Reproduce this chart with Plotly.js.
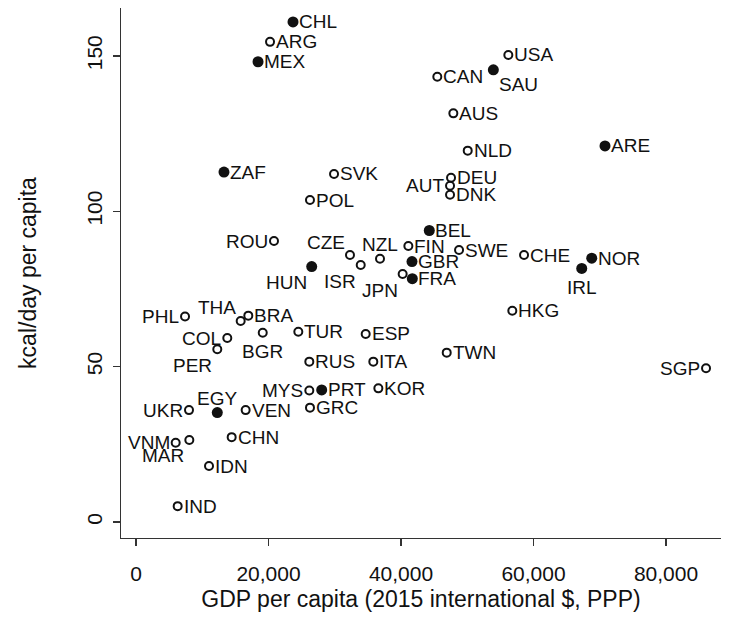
<!DOCTYPE html>
<html>
<head>
<meta charset="utf-8">
<script src="https://cdn.plot.ly/plotly-3.0.1.min.js"></script>
<style>
  html, body { margin: 0; padding: 0; background: #ffffff; }
  #chart { width: 745px; height: 632px; }
</style>
</head>
<body>
<div id="chart"></div>
<script>
// ---- data ----
const countries = ["CHL","ARG","MEX","USA","SAU","CAN","AUS","NLD","ARE","ZAF","SVK","POL","DEU","AUT","DNK","BEL","ROU","CZE","NZL","FIN","SWE","CHE","NOR","IRL","HUN","ISR","JPN","GBR","FRA","HKG","PHL","THA","BRA","COL","PER","BGR","TUR","ESP","RUS","ITA","TWN","SGP","MYS","PRT","KOR","GRC","UKR","EGY","VEN","CHN","VNM","MAR","IDN","IND"];
const gdpPerCapita = [23700,20230,18420,56200,53940,45480,47900,50070,70790,13280,29890,26260,47550,47400,47400,44270,20830,32300,36830,41110,48760,58570,68790,67280,26520,33920,40250,41660,41710,56800,7400,15800,16950,13780,12270,19130,24500,34670,26160,35820,46900,86040,26160,28030,36580,26260,8000,12270,16550,14440,5990,8050,11020,6290];
const kcalPerDay = [160.9,154.5,148.1,150.3,145.5,143.3,131.5,119.5,121.0,112.6,112.0,103.6,110.8,108.2,105.3,93.8,90.4,85.9,84.7,88.8,87.5,85.9,84.9,81.6,82.2,82.7,79.8,83.8,78.3,68.0,66.1,64.7,66.4,59.2,55.6,60.9,61.2,60.5,51.6,51.6,54.5,49.5,42.3,42.5,43.0,36.8,36.0,35.2,36.0,27.3,25.5,26.4,18.0,5.1];
// countries drawn with a solid marker
const solidGroup = ["CHL","MEX","SAU","ARE","ZAF","BEL","NOR","IRL","HUN","GBR","FRA","PRT","EGY"];
const xTickVals = [0, 20000, 40000, 60000, 80000];
const xTickText = ["0", "20,000", "40,000", "60,000", "80,000"];
const yTickVals = [0, 50, 100, 150];
const yTickText = ["0", "50", "100", "150"];

// ---- label placement (style, not data) ----
const labelSide = {
  SAU: "br", AUT: "l", ROU: "l", CZE: "tl", NZL: "t", IRL: "b", HUN: "bl", ISR: "bl",
  JPN: "bl", PHL: "l", THA: "tl", COL: "l", PER: "bl", BGR: "b", SGP: "l", MYS: "l",
  UKR: "l", EGY: "t", VNM: "l", MAR: "bl"
};
const sideStyle = {
  r:  {xanchor: "left",   yanchor: "middle", xshift: 5,  yshift: 0},
  l:  {xanchor: "right",  yanchor: "middle", xshift: -5, yshift: 0},
  br: {xanchor: "left",   yanchor: "middle", xshift: 5,  yshift: -15},
  b:  {xanchor: "center", yanchor: "middle", xshift: 0,  yshift: -19},
  bl: {xanchor: "right",  yanchor: "middle", xshift: -4, yshift: -16},
  tl: {xanchor: "right",  yanchor: "middle", xshift: -4, yshift: 13},
  t:  {xanchor: "center", yanchor: "middle", xshift: 0,  yshift: 14}
};

const FONT = "Liberation Sans, Arial, sans-serif";
const INK = "#111111";

const sx = [], sy = [], hx = [], hy = [];
countries.forEach((c, i) => {
  if (solidGroup.includes(c)) { sx.push(gdpPerCapita[i]); sy.push(kcalPerDay[i]); }
  else { hx.push(gdpPerCapita[i]); hy.push(kcalPerDay[i]); }
});

const traces = [
  {
    type: "scatter", mode: "markers", x: hx, y: hy, hoverinfo: "skip",
    marker: {symbol: "circle-open", size: 8, color: INK, line: {width: 2, color: INK}}
  },
  {
    type: "scatter", mode: "markers", x: sx, y: sy, hoverinfo: "skip",
    marker: {symbol: "circle", size: 11, color: INK, line: {width: 0}}
  }
];

const annotations = countries.map((c, i) => {
  const s = sideStyle[labelSide[c] || "r"];
  return {
    x: gdpPerCapita[i], y: kcalPerDay[i], xref: "x", yref: "y",
    text: c, showarrow: false,
    xanchor: s.xanchor, yanchor: s.yanchor, xshift: s.xshift, yshift: s.yshift,
    font: {family: FONT, size: 19, color: INK}, borderpad: 0
  };
});

const layout = {
  width: 745, height: 632,
  margin: {l: 121, r: 24, t: 8, b: 94, pad: 0},
  paper_bgcolor: "#ffffff", plot_bgcolor: "#ffffff",
  showlegend: false,
  font: {family: FONT, color: INK},
  xaxis: {
    range: [-2264, 88300], tickvals: xTickVals, ticktext: xTickText,
    ticks: "outside", ticklen: 7, tickwidth: 1.3, tickcolor: "#333",
    showline: true, linecolor: "#333", linewidth: 1.3,
    showgrid: false, zeroline: false,
    tickfont: {family: FONT, size: 21, color: INK},
    ticklabelstandoff: 9,
    title: {text: "GDP per capita (2015 international $, PPP)", font: {family: FONT, size: 23, color: INK}, standoff: 7}
  },
  yaxis: {
    range: [-5.15, 165.4], tickvals: yTickVals, ticktext: yTickText, tickangle: -90,
    ticks: "outside", ticklen: 7, tickwidth: 1.3, tickcolor: "#333",
    showline: true, linecolor: "#333", linewidth: 1.3,
    showgrid: false, zeroline: false,
    tickfont: {family: FONT, size: 21, color: INK},
    ticklabelstandoff: 2,
    title: {text: "kcal/day per capita", font: {family: FONT, size: 23, color: INK}, standoff: 40}
  },
  annotations: annotations
};

Plotly.newPlot("chart", traces, layout, {staticPlot: true, displayModeBar: false});
</script>
</body>
</html>
